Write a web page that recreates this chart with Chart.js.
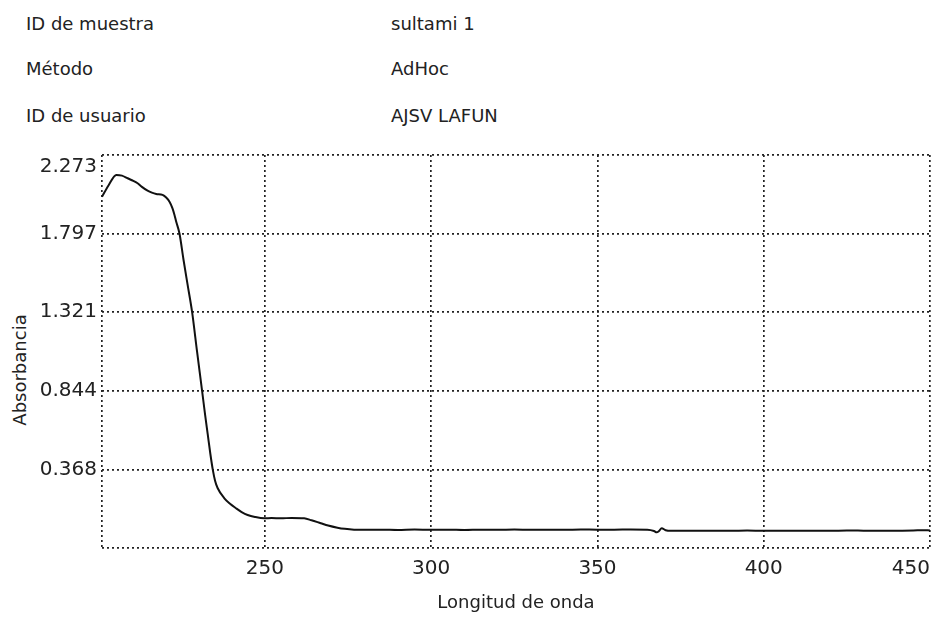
<!DOCTYPE html>
<html>
<head>
<meta charset="utf-8">
<script src="https://cdn.jsdelivr.net/npm/chart.js@4.4.1/dist/chart.umd.min.js"></script>
<style>
  html, body { margin: 0; padding: 0; background: #fff; }
  body { width: 932px; height: 618px; position: relative; overflow: hidden; font-family: "DejaVu Sans", sans-serif; color: #222; }
  #spectrum { position: absolute; left: 0; top: 0; }
  .info { position: absolute; font-size: 18px; line-height: 18px; white-space: nowrap; }
  .ylab { position: absolute; font-size: 18px; line-height: 18px; white-space: nowrap;
          left: 20px; top: 370px; transform: translate(-50%, -50%) rotate(-90deg); }
</style>
</head>
<body>
<div class="info" style="left:26px; top:15px">ID de muestra</div>
<div class="info" style="left:391px; top:15px">sultami 1</div>
<div class="info" style="left:26px; top:60px">Método</div>
<div class="info" style="left:391px; top:60px">AdHoc</div>
<div class="info" style="left:26px; top:107px">ID de usuario</div>
<div class="info" style="left:391px; top:107px">AJSV LAFUN</div>
<div class="ylab">Absorbancia</div>
<canvas id="spectrum" width="932" height="618"></canvas>
<script>
// scan: wavelength (nm) and absorbance
var wavelengths = [201, 203, 205.3, 207, 208.7, 210, 211.7, 213, 214.7, 216, 217.3, 219.2, 220.3, 221.3, 222.2, 222.8, 223.3,
    224.3, 225.5, 226.8, 228.1, 229.6, 231.1, 232, 232.8, 233.6, 234.3, 235, 235.8, 237.8, 239.5, 241.3, 243, 244.8, 247,
    249.8, 252, 254.8, 258, 261.8, 264, 266.8, 269, 271.8, 274, 276.8, 280, 285, 290, 295, 300, 305, 310, 315, 320, 325,
    330, 335, 340, 345, 350, 355, 360, 365, 367, 367.8, 368.5, 369.3, 370.5, 372, 375, 380, 385, 390, 395, 400, 405, 410,
    415, 420, 425, 430, 435, 440, 445, 448, 450];
var absorbance = [2.020, 2.09, 2.152, 2.148, 2.132, 2.12, 2.102, 2.08, 2.057, 2.045, 2.037, 2.031, 2.015, 1.99, 1.95, 1.91, 1.87,
    1.797, 1.64, 1.48, 1.321, 1.08, 0.844, 0.70, 0.58, 0.46, 0.368, 0.30, 0.254, 0.193, 0.16, 0.133, 0.11, 0.092, 0.08,
    0.072, 0.073, 0.072, 0.074, 0.072, 0.06, 0.042, 0.028, 0.015, 0.008, 0.003, 0.002, 0.003, 0.001, 0.004, 0.002, 0.003, 0.001, 0.003, 0.002, 0.004,
    0.002, 0.003, 0.002, 0.004, 0.003, 0.003, 0.004, 0.003, -0.005, -0.013, -0.005, 0.012, 0.0, -0.004, -0.003, -0.004, -0.003, -0.004, -0.002, -0.004, -0.003, -0.004,
    -0.003, -0.004, -0.002, -0.003, -0.004, -0.003, -0.002, 0.0, -0.002];

var xTicks = [201, 250, 300, 350, 400, 450];
var xTickLabels = ['', '250', '300', '350', '400', '450'];
var yTicks = [-0.108, 0.368, 0.844, 1.321, 1.797, 2.273];
var yTickLabels = ['', '0.368', '0.844', '1.321', '1.797', '2.273'];

var points = wavelengths.map(function (w, i) { return {x: w, y: absorbance[i]}; });

var dotted = {
    display: true,
    color: '#222',
    lineWidth: 1.7,
    drawTicks: false
};

new Chart(document.getElementById('spectrum'), {
    type: 'line',
    data: {
        datasets: [{
            data: points,
            borderColor: '#111',
            borderWidth: 2,
            pointRadius: 0,
            cubicInterpolationMode: 'monotone',
            fill: false
        }]
    },
    options: {
        responsive: false,
        animation: false,
        layout: { padding: { top: 155, right: 2, left: 0, bottom: 0 } },
        plugins: { legend: { display: false }, tooltip: { enabled: false } },
        scales: {
            x: {
                type: 'linear',
                min: 201,
                max: 450,
                afterBuildTicks: function (s) { s.ticks = xTicks.map(function (v) { return {value: v}; }); },
                afterFit: function (s) {
                    s.height = 70;
                    // let the frame run to the right edge, the last label sits inside it
                    s.paddingLeft = 0;
                    s.paddingRight = 0;
                },
                grid: dotted,
                border: { display: false, dash: [2, 3] },
                ticks: {
                    align: 'inner',
                    padding: 9,
                    color: '#222',
                    font: { family: 'DejaVu Sans', size: 20 },
                    callback: function (v, i) { return xTickLabels[i]; }
                },
                title: {
                    display: true,
                    text: 'Longitud de onda',
                    color: '#222',
                    font: { family: 'DejaVu Sans', size: 18 },
                    padding: { top: 0, bottom: 4 }
                }
            },
            y: {
                min: -0.108,
                max: 2.273,
                afterBuildTicks: function (s) { s.ticks = yTicks.map(function (v) { return {value: v}; }); },
                afterFit: function (s) { s.width = 102; },
                grid: dotted,
                border: { display: false, dash: [2, 3] },
                ticks: {
                    padding: 5,
                    color: '#222',
                    font: { family: 'DejaVu Sans', size: 20 },
                    callback: function (v, i) {
                        // top label hangs just below the frame line
                        return i === yTicks.length - 1 ? ['', yTickLabels[i]] : yTickLabels[i];
                    }
                }
            }
        }
    }
});
</script>
</body>
</html>
